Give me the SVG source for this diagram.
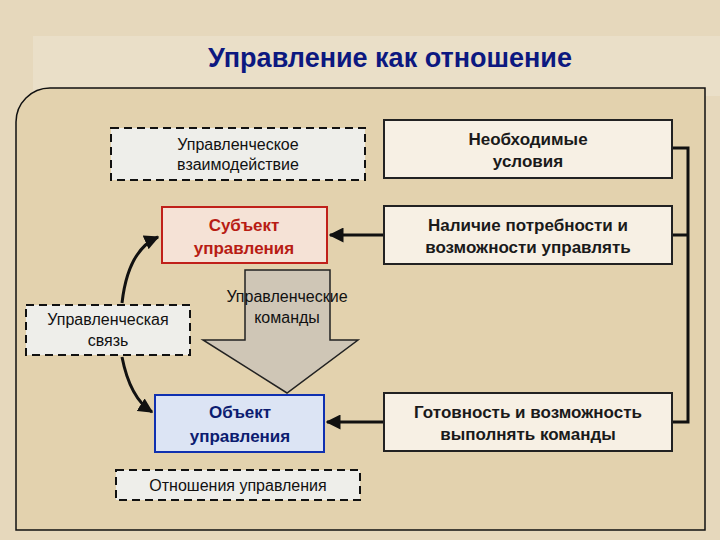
<svg xmlns="http://www.w3.org/2000/svg" width="720" height="540" viewBox="0 0 720 540">
<defs>
<marker id="ah" viewBox="0 0 10 10" refX="9" refY="5" markerWidth="5" markerHeight="5" orient="auto"><path d="M0,0 L10,5 L0,10 z" fill="#111"/></marker>
</defs>
<style>
text{font-family:"Liberation Sans",Arial,sans-serif;text-anchor:middle}
.t{font-size:16px;fill:#111}
.r{font-size:17px;font-weight:bold;fill:#1a1a1a}
.b{font-size:17px;font-weight:bold}
.dash{fill:#eeeeea;stroke:#111;stroke-width:2;stroke-dasharray:8,5}
.rb{fill:#f7f0e4;stroke:#222;stroke-width:2}
.c{fill:none;stroke:#111;stroke-width:3}
</style>
<rect width="720" height="540" fill="#e6d8bc"/>
<rect x="33" y="36" width="687" height="60" fill="#eadfc8"/>
<text x="390" y="67" style="font-size:27px;font-weight:bold;fill:#0c1880">Управление как отношение</text>
<path d="M50,88 H705 V530 H16 V122 A34,34 0 0 1 50,88 Z" fill="#e3d2ae" stroke="#111" stroke-width="1.5"/>
<g id="connectors">
<path class="c" d="M672,148 H688 V422 H672 M672,235 H688" />
<line class="c" x1="384" y1="235" x2="330" y2="235" marker-end="url(#ah)"/>
<line class="c" x1="384" y1="422" x2="327" y2="422" marker-end="url(#ah)"/>
<path class="c" d="M122,303 Q128,250 158,237" marker-end="url(#ah)"/>
<path class="c" d="M122,357 Q130,398 152,412" marker-end="url(#ah)"/>
</g>
<g id="cmd"><path d="M245,270 H330 V340 H358 L287,393 L203,340 H245 Z" fill="#cfc6b6" stroke="#222" stroke-width="1.5"/>
<text class="t" x="287" y="302">Управленческие</text><text class="t" x="287" y="323">команды</text></g>
<g id="interact"><rect class="dash" x="111" y="128" width="254" height="52"/><text class="t" x="238" y="150">Управленческое</text><text class="t" x="238" y="170">взаимодействие</text></g>
<g id="subject"><rect x="162" y="207" width="165" height="56" fill="#f5e2d6" stroke="#c0201a" stroke-width="2"/><text class="b" x="244" y="231" fill="#b81c14">Субъект</text><text class="b" x="244" y="254" fill="#b81c14">управления</text></g>
<g id="link"><rect class="dash" x="26" y="305" width="164" height="50"/><text class="t" x="108" y="325">Управленческая</text><text class="t" x="108" y="346">связь</text></g>
<g id="object"><rect x="155" y="395" width="169" height="57" fill="#dce4f4" stroke="#1030b0" stroke-width="2"/><text class="b" x="240" y="418" fill="#0c1c70">Объект</text><text class="b" x="240" y="442" fill="#0c1c70">управления</text></g>
<g id="relations"><rect class="dash" x="116" y="470" width="244" height="30"/><text class="t" x="238" y="491">Отношения управления</text></g>
<g id="cond"><rect class="rb" x="384" y="120" width="288" height="58"/><text class="r" x="528" y="145">Необходимые</text><text class="r" x="528" y="167">условия</text></g>
<g id="need"><rect class="rb" x="384" y="206" width="288" height="58"/><text class="r" x="528" y="231">Наличие потребности и</text><text class="r" x="528" y="253">возможности управлять</text></g>
<g id="ready"><rect class="rb" x="384" y="393" width="288" height="58"/><text class="r" x="528" y="418">Готовность и возможность</text><text class="r" x="528" y="440">выполнять команды</text></g>
</svg>
